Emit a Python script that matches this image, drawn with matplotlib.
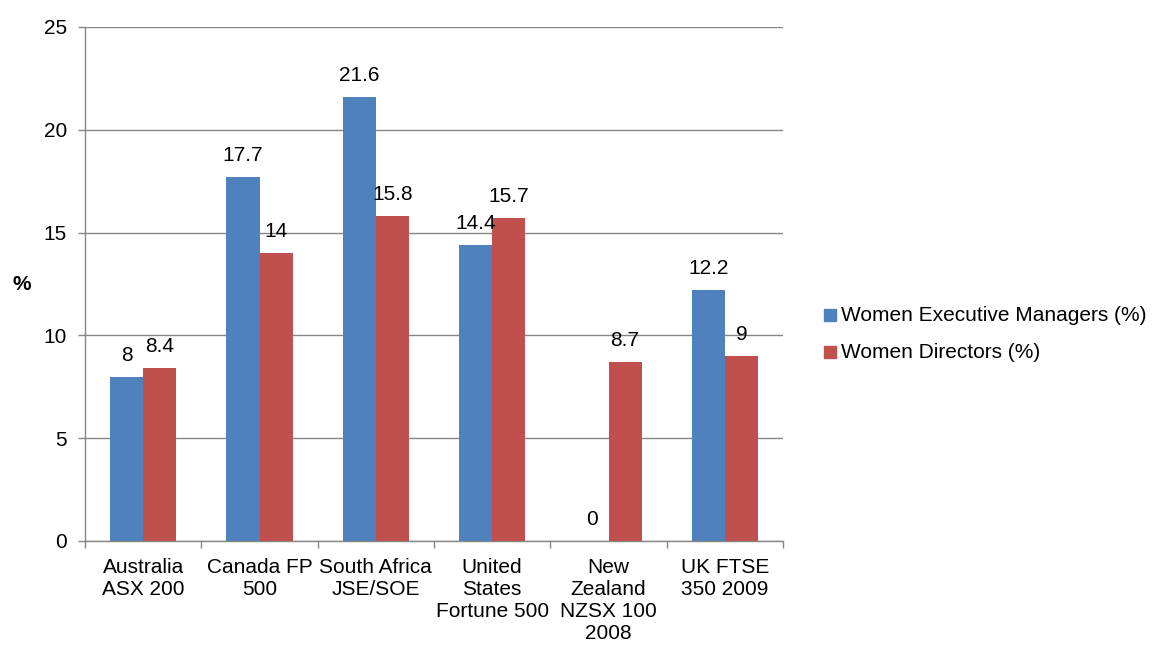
import matplotlib
matplotlib.use("Agg")
import matplotlib.pyplot as plt
from matplotlib.patches import Rectangle
import numpy as np

plt.rcParams['font.family'] = ['Liberation Sans', 'DejaVu Sans']

categories = ["Australia\nASX 200", "Canada FP\n500", "South Africa\nJSE/SOE",
              "United\nStates\nFortune 500", "New\nZealand\nNZSX 100\n2008",
              "UK FTSE\n350 2009"]
exec_managers = [8, 17.7, 21.6, 14.4, 0, 12.2]
directors = [8.4, 14, 15.8, 15.7, 8.7, 9]
series_names = ["Women Executive Managers (%)", "Women Directors (%)"]
yticks = [0, 5, 10, 15, 20, 25]

blue = "#4F81BD"
red = "#C0504D"
grid_c = "#868686"
fs = 15

fig = plt.figure(figsize=(11.53, 6.46), dpi=100)
ax = fig.add_axes([85/1153, 1 - 541/646, (783-85)/1153, (541-27)/646])

x = np.arange(len(categories))
w = 0.284
b1 = ax.bar(x - w/2, exec_managers, w, color=blue, zorder=3)
b2 = ax.bar(x + w/2, directors, w, color=red, zorder=3)

for bars, vals in ((b1, exec_managers), (b2, directors)):
    for r, v in zip(bars, vals):
        ax.annotate(f"{v:g}", (r.get_x() + r.get_width()/2, v),
                    xytext=(0, 8.5), textcoords="offset points",
                    ha="center", va="bottom", fontsize=fs, zorder=4)

ax.set_xlim(-0.5, len(categories) - 0.5)
ax.set_ylim(0, 25)
ax.set_yticks(yticks)
ax.set_yticklabels([str(t) for t in yticks], fontsize=fs)
ax.yaxis.grid(True, color=grid_c, linewidth=1, zorder=0)
ax.set_axisbelow(True)

ax.set_xticks(x)
ax.set_xticklabels(categories, fontsize=fs, linespacing=1.2)
ax.tick_params(axis="x", length=0, pad=12)
ax.set_xticks(np.arange(-0.5, len(categories)), minor=True)
ax.tick_params(axis="x", which="minor", length=5, color=grid_c, width=1)
ax.tick_params(axis="y", length=5, color=grid_c, width=1, pad=8)

for s in ("top", "right"):
    ax.spines[s].set_visible(False)
for s in ("left", "bottom"):
    ax.spines[s].set_color(grid_c)
    ax.spines[s].set_linewidth(1)

fig.text(22/1153, 1 - 285/646, "%", fontsize=fs, fontweight="bold",
         ha="center", va="center")

# legend
for i, (name, col) in enumerate(zip(series_names, (blue, red))):
    yc = 1 - (315 + 37*i)/646
    fig.patches.append(Rectangle((824/1153, yc - 6/646), 12/1153, 12/646,
                                 transform=fig.transFigure, color=col))
    fig.text(841/1153, yc, name, fontsize=fs, ha="left", va="center")

fig.savefig("out.png", dpi=100)
